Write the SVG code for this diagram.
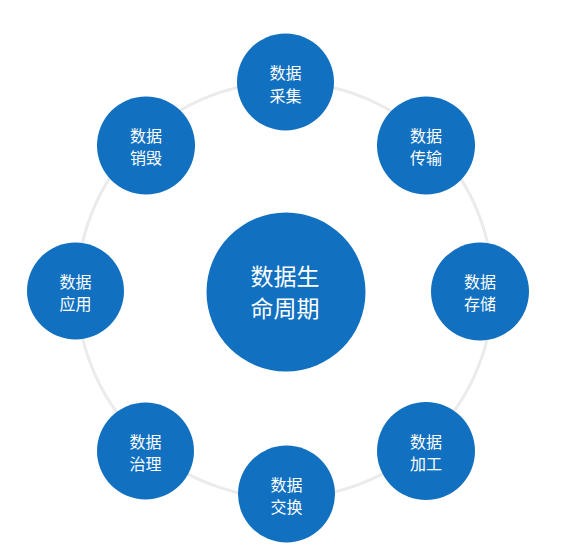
<svg xmlns="http://www.w3.org/2000/svg" width="562" height="548" viewBox="0 0 562 548">
<style>
.node{fill:#1170bf;}
.t{fill:#ffffff;font-family:"Noto Sans CJK SC","Microsoft YaHei",sans-serif;font-size:16px;text-anchor:middle;}
.tc{fill:#ffffff;font-family:"Noto Sans CJK SC","Microsoft YaHei",sans-serif;font-size:23px;text-anchor:middle;}
.ring{fill:none;stroke:#ebebeb;stroke-width:3;}
</style>
<rect width="562" height="548" fill="#ffffff"/>
<g id="connectors">
<circle class="ring" cx="285" cy="290" r="208"/>
</g>
<g id="center">
<circle class="node" cx="286" cy="292" r="79.5"/>
<text class="tc" x="285" y="284.5">数据生</text>
<text class="tc" x="285" y="316.5">命周期</text>
</g>
<g id="collect">
<circle class="node" cx="285.5" cy="82" r="48.5"/>
<text class="t" x="285.5" y="79">数据</text>
<text class="t" x="285.5" y="102">采集</text>
</g>
<g id="transfer">
<circle class="node" cx="426" cy="145.5" r="49"/>
<text class="t" x="426" y="142">数据</text>
<text class="t" x="426" y="164">传输</text>
</g>
<g id="storage">
<circle class="node" cx="480" cy="291.5" r="49"/>
<text class="t" x="480" y="287.5">数据</text>
<text class="t" x="480" y="309.5">存储</text>
</g>
<g id="process">
<circle class="node" cx="426" cy="451" r="49"/>
<text class="t" x="426" y="447.5">数据</text>
<text class="t" x="426" y="469.5">加工</text>
</g>
<g id="exchange">
<circle class="node" cx="286.5" cy="494" r="48.5"/>
<text class="t" x="286.5" y="490.5">数据</text>
<text class="t" x="286.5" y="512.5">交换</text>
</g>
<g id="govern">
<circle class="node" cx="145.5" cy="451" r="48.5"/>
<text class="t" x="145.5" y="447.5">数据</text>
<text class="t" x="145.5" y="469.5">治理</text>
</g>
<g id="apply">
<circle class="node" cx="75.5" cy="291" r="48.5"/>
<text class="t" x="75.5" y="287.5">数据</text>
<text class="t" x="75.5" y="309.5">应用</text>
</g>
<g id="destroy">
<circle class="node" cx="146" cy="145.5" r="49"/>
<text class="t" x="146" y="142">数据</text>
<text class="t" x="146" y="164">销毁</text>
</g>
</svg>
